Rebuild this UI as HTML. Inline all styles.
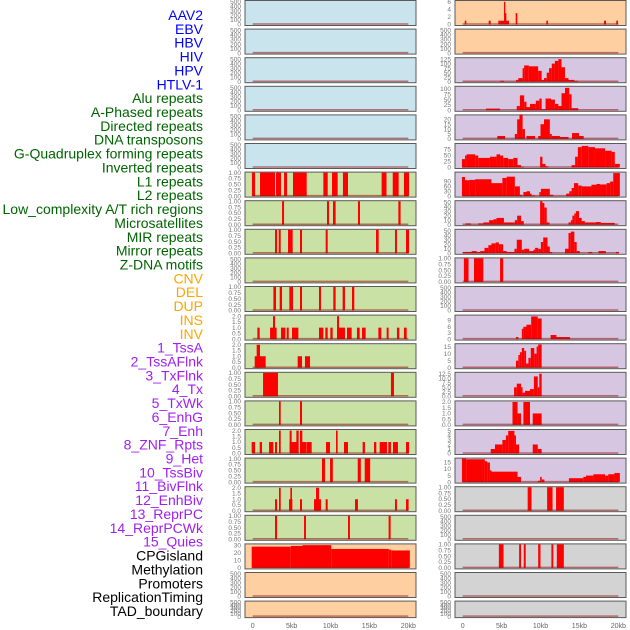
<!DOCTYPE html>
<html><head><meta charset="utf-8"><style>
body{margin:0;background:#fff;}
svg{display:block;font-family:"Liberation Sans",sans-serif;}
</style></head><body>
<svg id="chart" width="630" height="630" viewBox="0 0 630 630"></svg>
<script>
const labels=["AAV2","EBV","HBV","HIV","HPV","HTLV-1","Alu repeats","A-Phased repeats","Directed repeats","DNA transposons","G-Quadruplex forming repeats","Inverted repeats","L1 repeats","L2 repeats","Low_complexity A/T rich regions","Microsatellites","MIR repeats","Mirror repeats","Z-DNA motifs","CNV","DEL","DUP","INS","INV","1_TssA","2_TssAFlnk","3_TxFlnk","4_Tx","5_TxWk","6_EnhG","7_Enh","8_ZNF_Rpts","9_Het","10_TssBiv","11_BivFlnk","12_EnhBiv","13_ReprPC","14_ReprPCWk","15_Quies","CPGisland","Methylation","Promoters","ReplicationTiming","TAD_boundary"];
const labelColors=["#0000ff","#0000ff","#0000ff","#0000ff","#0000ff","#0000ff","#006400","#006400","#006400","#006400","#006400","#006400","#006400","#006400","#006400","#006400","#006400","#006400","#006400","#ffa500","#ffa500","#ffa500","#ffa500","#ffa500","#a020f0","#a020f0","#a020f0","#a020f0","#a020f0","#a020f0","#a020f0","#a020f0","#a020f0","#a020f0","#a020f0","#a020f0","#a020f0","#a020f0","#a020f0","#000","#000","#000","#000","#000"];
const xTicks=[0,5,10,15,20];
const xTickLabels=["0","5kb","10kb","15kb","20kb"];
const T_EMPTY=[0,100,200,300,400,500], T_BIN=[0,0.25,0.5,0.75,1], T_2=[0,0.5,1,1.5,2];
const leftBg=["#c9e4ec","#c9e4ec","#c9e4ec","#c9e4ec","#c9e4ec","#c9e4ec","#c9e1a5","#c9e1a5","#c9e1a5","#c9e1a5","#c9e1a5","#c9e1a5","#c9e1a5","#c9e1a5","#c9e1a5","#c9e1a5","#c9e1a5","#c9e1a5","#c9e1a5","#fecfa0","#fecfa0","#fecfa0"];
const rightBg=["#fecfa0","#fecfa0","#d6c6e2","#d6c6e2","#d6c6e2","#d6c6e2","#d6c6e2","#d6c6e2","#d6c6e2","#d6c6e2","#d6c6e2","#d6c6e2","#d6c6e2","#d6c6e2","#d6c6e2","#d6c6e2","#d6c6e2","#d3d3d3","#d3d3d3","#d3d3d3","#d3d3d3","#d3d3d3"];
const leftMax=[520,520,520,520,520,520,1,1,1,520,1,2.05,2.05,1,1,2.05,1,2.05,1,31,520,520];
const rightMax=[6.2,520,130,110,24,98,145,52,52,1,520,11.4,16.7,13,2.05,5.2,18,1,520,1,520,520];
const leftTicks=[T_EMPTY,T_EMPTY,T_EMPTY,T_EMPTY,T_EMPTY,T_EMPTY,T_BIN,T_BIN,T_BIN,T_EMPTY,T_BIN,T_2,T_2,T_BIN,T_BIN,T_2,T_BIN,T_2,T_BIN,[0,10,20,30],T_EMPTY,T_EMPTY];
const rightTicks=[[0,2,4,6],T_EMPTY,[0,25,50,75,100,125],[0,25,50,75,100],[0,5,10,15,20],[0,25,50,75],[0,30,60,90],[0,10,20,30,40,50],[0,10,20,30,40,50],T_BIN,T_EMPTY,[0,3,6,9],[0,5,10,15],[0,2.5,5,7.5,10,12.5],T_2,[0,1,2,3,4,5],[0,5,10,15],T_BIN,T_EMPTY,T_BIN,T_EMPTY,T_EMPTY];
const left=[[],[],[],[],[],[],
[[-0.1,0.3,1],[0.94,2.87,1],[3.0,3.64,1],[4.03,4.41,1],[5.18,6.94,1],[9.08,9.64,1],[10.19,10.92,1],[11.6,12.25,1],[16.57,17.2,1],[18.0,18.76,1],[19.44,20.09,1]],
[[3.77,4.03,1],[9.55,9.81,1],[10.32,10.66,1],[13.53,13.79,1],[18.72,19.01,1]],
[[2.87,3.13,1],[3.34,3.6,1],[4.54,5.14,1],[6.08,6.34,1],[9.38,9.64,1],[15.85,16.19,1],[18.29,18.54,1],[19.7,20.09,1]],
[],
[[2.66,3.0,1],[3.47,3.77,1],[4.71,5.18,1],[6.08,6.34,1],[8.52,8.78,1],[10.36,10.66,1],[11.56,11.86,1],[12.76,13.06,1]],
[[0.6,0.9,1],[2.23,3.08,1],[2.61,2.87,2],[3.64,4.2,1],[4.37,4.63,1],[5.05,5.87,1],[8.52,9.08,1],[9.34,9.64,1],[9.98,10.28,1],[10.84,11.86,1],[10.84,11.1,2],[12.12,12.72,1],[13.4,13.75,1],[14.05,14.52,1],[16.15,16.53,1],[17.22,17.47,1],[18.54,18.84,1],[19.44,19.79,1]],
[[0.26,1.67,1],[0.51,0.94,2],[5.78,6.34,1],[6.72,7.37,1]],
[[1.33,3.25,1],[17.77,18.16,1]],
[[3.38,3.6,1],[6.08,6.34,1]],
[[-0.13,0.3,1],[0.9,1.2,1],[2.1,2.66,1],[2.87,3.13,1],[3.38,3.6,2],[4.75,5.65,1],[4.75,5.01,2],[5.61,5.91,2],[6.08,6.94,1],[6.08,6.38,2],[6.98,7.58,1],[9.42,9.94,1],[10.71,10.92,2],[11.73,12.25,1],[14.13,14.43,1],[15.59,15.89,1],[16.32,17.26,1],[17.43,17.77,1],[18.03,18.67,1],[19.7,20.09,1]],
[[8.9,9.3,1],[9.94,10.3,1],[13.5,13.9,1],[14.4,15.1,1]],
[[2.87,3.13,1],[3.38,3.6,2],[4.67,5.1,1],[4.84,5.05,2],[6.08,6.34,1],[7.88,8.78,1],[8.14,8.52,2],[9.38,9.64,1],[13.15,13.53,1],[18.29,18.54,1],[19.7,20.04,1]],
[[2.87,3.13,1],[6.6,6.85,1],[12.25,12.5,1],[17.47,17.73,1]],
[[-0.13,4.9,28],[4.9,6.4,29],[6.4,10.1,30],[10.1,17.5,25],[17.5,17.8,24],[17.8,20.2,23]],
[],[]];
const right=[
[[0.26,0.47,1],[3.34,3.6,1],[4.58,4.84,1],[4.84,5.95,1],[5.44,5.61,3],[5.31,5.48,6],[6.81,7.02,3],[10.75,10.96,1],[18.16,18.42,1],[19.74,19.96,1]],
[],
[[4.8,5.3,5],[6.85,7.15,10],[7.15,7.7,20],[7.7,7.9,75],[7.9,8.5,90],[8.5,9.7,85],[9.7,10.15,60],[10.15,10.45,10],[10.45,10.8,20],[10.8,11.1,50],[11.1,11.45,75],[11.45,11.85,100],[11.85,12.3,115],[12.3,12.7,125],[12.7,13.15,80],[13.15,13.6,20],[13.6,14.35,10],[14.35,14.85,5]],
[[3.0,4.8,8],[6.95,7.35,20],[7.35,7.9,70],[7.9,8.2,40],[8.2,8.65,15],[8.65,9.4,30],[9.4,9.85,45],[9.85,10.15,55],[10.15,10.65,5],[10.65,11.35,55],[11.35,11.85,50],[11.85,12.3,30],[12.3,12.7,20],[12.7,13.15,80],[13.15,13.7,105],[13.7,14.0,75],[14.0,14.85,10]],
[[4.45,5.45,3],[6.7,7.0,5],[7.0,7.3,20],[7.3,7.7,25],[7.7,8.0,10],[8.2,9.3,3],[9.7,10.0,3],[10.0,10.45,15],[10.45,11.2,20],[11.2,11.45,5],[11.45,12.5,3],[12.5,13.6,2],[14.05,14.95,6],[14.95,15.55,3]],
[[-0.1,0.3,35],[0.3,0.5,50],[0.5,1.6,55],[1.6,2.0,50],[2.0,3.5,40],[3.5,4.35,45],[4.35,4.8,55],[4.8,5.2,50],[5.2,5.85,40],[5.85,6.5,35],[6.5,7.05,40],[7.05,7.5,10],[7.5,7.85,3],[9.95,10.25,45],[10.25,10.65,15],[10.65,11.0,5],[14.0,14.45,10],[14.45,14.8,45],[14.8,15.3,85],[15.3,16.15,90],[16.15,17.0,85],[17.0,18.3,80],[18.3,19.15,70],[19.15,19.55,65],[19.55,20.2,15]],
[[-0.1,0.3,118],[0.3,0.85,98],[0.85,1.6,100],[1.6,3.7,104],[3.7,5.1,80],[5.1,5.65,112],[5.65,6.7,120],[6.7,7.35,60],[7.35,7.65,8],[7.8,8.2,25],[8.2,8.65,30],[8.65,8.85,15],[8.85,9.3,4],[9.85,10.05,25],[10.05,11.2,45],[11.2,11.65,8],[13.3,13.7,15],[13.7,14.0,30],[14.0,14.3,50],[14.3,14.85,80],[14.85,15.3,65],[15.3,16.55,60],[16.55,17.2,70],[17.2,17.65,75],[17.65,18.5,72],[18.5,18.95,80],[18.95,19.35,90],[19.35,20.2,142]],
[[0.4,1.05,3],[2.0,2.65,3],[2.65,3.4,5],[3.4,3.95,10],[3.95,4.35,12],[4.35,5.3,15],[5.3,6.7,5],[6.7,7.0,10],[7.0,7.5,20],[7.5,7.85,8],[9.95,10.25,52],[10.25,10.5,48],[10.5,10.8,38],[10.8,11.15,5],[13.6,13.9,5],[13.9,14.1,10],[14.1,14.35,20],[14.35,14.55,25],[14.55,14.95,30],[14.95,15.3,15],[15.3,15.7,8],[15.7,17.1,5],[17.1,17.75,6],[17.75,19.55,4]],
[[0,1.15,3],[1.15,1.8,5],[1.8,2.25,3],[2.25,2.8,5],[2.8,3.3,12],[3.3,3.7,18],[3.7,4.25,22],[4.25,4.65,24],[4.65,5.2,20],[5.2,5.65,5],[5.65,6.65,3],[6.65,6.95,10],[6.95,7.6,30],[7.6,7.9,8],[7.9,8.55,10],[8.55,9.1,5],[9.1,9.3,8],[9.3,9.7,12],[9.7,10.05,10],[10.05,10.35,25],[10.35,10.9,35],[10.9,11.2,15],[11.2,11.5,3],[13.15,13.6,10],[13.6,13.9,45],[13.9,14.35,48],[14.35,14.65,25],[14.65,15.05,5],[16.15,16.65,3],[17.45,18.4,5],[19.7,20.1,3]],
[[0.15,0.75,1],[1.45,2.65,1],[4.8,5.2,1]],
[],
[[6.85,7.15,1],[7.6,7.8,5],[7.8,8.2,6],[8.2,8.8,7],[8.8,9.65,11],[9.65,10.15,10],[11.3,12.05,2],[12.05,13.8,1]],
[[6.85,7.15,5],[7.15,7.35,9],[7.35,7.6,11],[7.6,7.9,14],[7.9,8.15,12],[8.15,8.45,3],[8.45,8.75,7],[8.75,9.2,14],[9.2,9.5,10],[9.5,9.7,15],[9.7,10.15,16.5]],
[[6.6,6.95,5],[6.95,7.5,7],[7.5,7.7,5],[7.7,8.0,2],[8.0,8.65,3],[8.65,9.15,4],[9.15,9.65,11],[9.65,9.85,5],[9.85,10.15,12.5]],
[[6.4,7.05,2],[7.05,7.5,1],[7.8,8.65,2],[9.0,10.15,1]],
[[3.6,4.15,1],[4.15,5.1,2],[5.1,5.55,3],[5.55,5.85,4],[5.85,6.65,5],[6.65,6.85,4],[6.85,7.25,2],[9.0,9.65,2],[9.65,10.15,1]],
[[-0.1,0.45,18],[0.45,2.85,17.5],[2.85,3.15,16],[3.15,3.5,15],[3.5,3.7,9],[3.7,7.05,8],[7.05,7.5,4],[9.65,9.95,1],[9.95,10.15,4],[10.15,10.5,2],[13.65,15.5,3],[15.5,15.85,4],[15.85,16.8,5],[16.8,18.3,6],[18.3,18.7,5],[18.7,19.5,6],[19.5,20.2,7]],
[[8.35,8.85,1],[10.85,11.55,1],[12.0,13.0,1]],
[],
[[4.65,5.25,1],[7.25,7.5,1],[7.85,8.1,1],[9.7,10.0,1],[11.4,11.65,1],[12.1,13.0,1]],
[],[]];

const NS="http://www.w3.org/2000/svg";
const svg=document.getElementById('chart');
function mk(tag,attrs,parent){const e=document.createElementNS(NS,tag);for(const k in attrs)e.setAttribute(k,attrs[k]);(parent||svg).appendChild(e);return e;}
const KB0=252.7, KBW=7.78;
function xs(kb,col){return KB0+kb*KBW+(col?210:0);}
function rowTop(i){return i*28.6;}
function rowH(i){return i===21?16.5:25;}
function fmt(v,ticks){const dec=ticks.some(t=>t%1!==0)?(ticks===T_BIN?2:1):0;return v.toFixed(dec);}

labels.forEach((l,i)=>{
  const t=mk('text',{x:203,y:15+i*13.86+5,'text-anchor':'end','font-size':14,fill:labelColors[i]});
  t.textContent=l;
  
  
});

function panel(col,i,bg,ymax,ticks,segs){
  const g=mk('g',{});
  
  
  const px=col?455:245, pw=171, top=rowTop(i), h=rowH(i);
  mk('rect',{x:px,y:top+0.5,width:pw,height:h,fill:bg,stroke:'#5a5a5a','stroke-width':1},g);
  const y0=top+h-0.5, ph=h-1.5;
  const ys=v=>y0-v/ymax*ph;
  ticks.forEach(t=>{
    const tt=mk('text',{x:px-4,y:ys(t)+2.2,'text-anchor':'end','font-size':6.5,fill:'#777'},g);
    tt.textContent=fmt(t,ticks);
    
    
  });
  segs.forEach(s=>{
    const x1=xs(s[0],col), x2=xs(s[1],col), yv=ys(s[2]);
    const r=mk('rect',{x:x1,y:yv,width:Math.max(1,x2-x1),height:y0-yv,fill:'#ff0000'},g);
    
    
  });
  const b=mk('line',{x1:xs(0,col),x2:xs(20,col),y1:y0-0.5,y2:y0-0.5,stroke:'rgba(150,20,20,0.55)','stroke-width':1.5},g);
  
  
}
for(let i=0;i<22;i++){
  panel(0,i,leftBg[i],leftMax[i],leftTicks[i],left[i]);
  panel(1,i,rightBg[i],rightMax[i],rightTicks[i],right[i]);
}
[0,1].forEach(col=>{
  xTicks.forEach((t,j)=>{
    const tt=mk('text',{x:xs(t,col),y:628,'text-anchor':'middle','font-size':7,fill:'#666'});
    tt.textContent=xTickLabels[j];
    
    
  });
});
</script>
</body></html>
